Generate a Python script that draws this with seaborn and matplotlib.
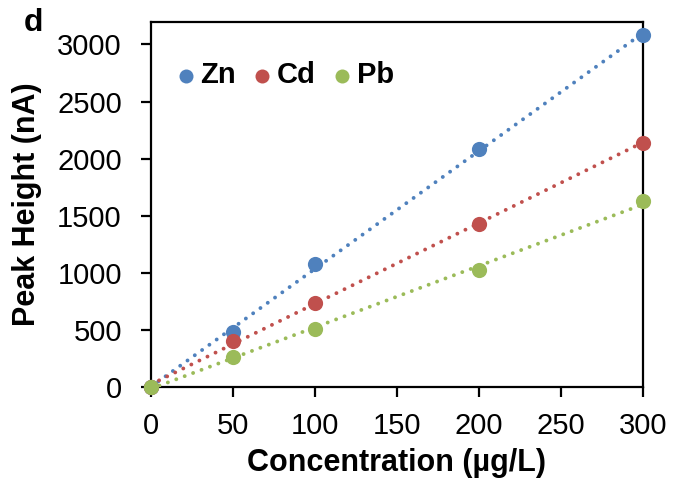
import numpy as np
import matplotlib
matplotlib.use("Agg")
import matplotlib.pyplot as plt
import seaborn as sns

# data
concentration = [0, 50, 100, 200, 300]
zn_peak = [0, 480, 1080, 2080, 3080]
cd_peak = [0, 400, 740, 1425, 2140]
pb_peak = [0, 260, 510, 1025, 1625]

series = [("Zn", zn_peak, "#4F81BD"),
          ("Cd", cd_peak, "#C0504D"),
          ("Pb", pb_peak, "#9BBB59")]

sns.set_style("ticks", {"text.color": "black", "axes.labelcolor": "black",
                        "xtick.color": "black", "ytick.color": "black",
                        "axes.edgecolor": "black"})
plt.rcParams['font.family'] = ['Liberation Sans', 'DejaVu Sans']

fig = plt.figure(figsize=(6.73, 4.79), dpi=100)
ax = fig.add_axes([0.2244, 0.192, 0.7306, 0.763])

for i, (name, vals, col) in enumerate(series):
    sns.regplot(x=concentration, y=vals, ax=ax, ci=None, color=col, label=name,
                scatter_kws=dict(s=120, clip_on=False, zorder=5 + i, alpha=1, linewidths=0),
                line_kws=dict(lw=2.8, linestyle=(0, (0.01, 2.3)), dash_capstyle='round',
                              zorder=2 + i))

ax.set_xlim(0, 300)
ax.set_ylim(0, 3200)
ax.set_xticks(np.arange(0, 301, 50))
ax.set_yticks(np.arange(0, 3001, 500))
ax.tick_params(axis='both', labelsize=21, length=7, width=1.6, direction='out')
ax.tick_params(axis='y', pad=14)
ax.tick_params(axis='x', pad=11)
for sp in ax.spines.values():
    sp.set_linewidth(1.6)
    sp.set_visible(True)

ax.set_xlabel("Concentration (µg/L)", fontsize=22, fontweight='bold', labelpad=6)
ax.set_ylabel("Peak Height (nA)", fontsize=22, fontweight='bold', labelpad=11)

ax.legend(loc='center left', ncol=3, frameon=False,
          prop=dict(weight='bold', size=21), handletextpad=0.0, columnspacing=0.4,
          handlelength=1.0, markerscale=0.92, bbox_to_anchor=(0.0, 0.853),
          borderaxespad=0.3)

fig.text(0.049, 0.951, "d", fontsize=23, fontweight='bold', va='center', ha='center')

fig.savefig("out.png", dpi=100)
